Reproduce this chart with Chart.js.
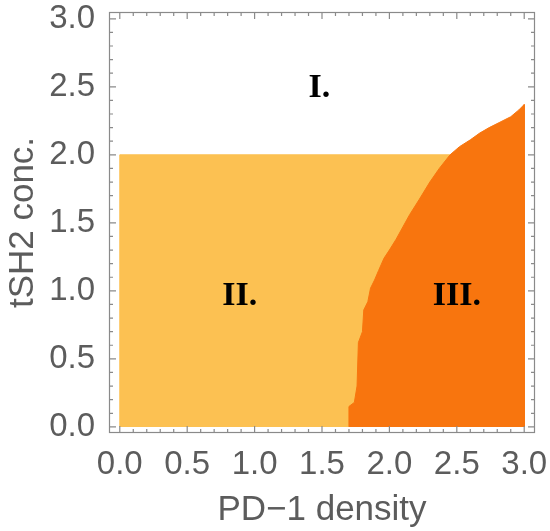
<!DOCTYPE html>
<html>
<head>
<meta charset="utf-8">
<script src="https://cdn.jsdelivr.net/npm/chart.js@4.4.1/dist/chart.umd.min.js"></script>
<style>
  html, body { margin: 0; padding: 0; background: #fff; }
  #wrap { width: 550px; height: 531px; }
</style>
</head>
<body>
<div id="wrap"><canvas id="phase"></canvas></div>
<script>
// axis ticks
const xTicks = [0, 0.5, 1, 1.5, 2, 2.5, 3];
const yTicks = [0, 0.5, 1, 1.5, 2, 2.5, 3];

// region II (light) : rectangle below tSH2 = 2
const regionTwoX = [0, 0, 3, 3];
const regionTwoY = [0, 2, 2, 0];

// region III (dark) : boundary, bottom to top, then closed on the right
const regionThreeX = [1.70, 1.70, 1.74, 1.76, 1.77, 1.80, 1.81, 1.84, 1.86, 1.89, 1.92, 1.96, 2.00, 2.05,
  2.10, 2.15, 2.22, 2.30, 2.37, 2.45, 2.52, 2.60, 2.67, 2.74, 2.82, 2.90, 2.96, 3.00, 3.00];
const regionThreeY = [0.00, 0.15, 0.18, 0.30, 0.62, 0.70, 0.86, 0.92, 1.02, 1.08, 1.15, 1.24, 1.30, 1.38,
  1.47, 1.56, 1.67, 1.80, 1.90, 2.00, 2.06, 2.11, 2.16, 2.20, 2.24, 2.28, 2.33, 2.37, 0.00];

// region labels
const regionNames = ['I.', 'II.', 'III.'];
const regionX = [1.48, 0.89, 2.50];
const regionY = [2.49, 0.96, 0.96];

const lightOrange = '#fcc152';
const darkOrange = '#f8750e';
const textGray = '#5c5c5c';
const frameGray = '#8a8a8a';

function toPoints(xs, ys) {
  return xs.map((x, i) => ({ x: x, y: ys[i] }));
}

// frame with inward ticks on all four sides, plus region names
const framePlugin = {
  id: 'frame',
  afterDatasetsDraw(chart) {
    const ctx = chart.ctx;
    const a = chart.chartArea;
    const xs = chart.scales.x, ys = chart.scales.y;
    ctx.save();
    ctx.strokeStyle = frameGray;
    ctx.lineWidth = 1.2;
    ctx.strokeRect(a.left + 0.5, a.top + 0.5, a.right - a.left - 1, a.bottom - a.top - 1);
    ctx.beginPath();
    for (let i = 0; i <= 30; i++) {
      const len = i % 5 === 0 ? 7 : 4;
      const px = xs.getPixelForValue(i / 10);
      ctx.moveTo(px, a.bottom); ctx.lineTo(px, a.bottom - len);
      ctx.moveTo(px, a.top); ctx.lineTo(px, a.top + len);
      const py = ys.getPixelForValue(i / 10);
      ctx.moveTo(a.left, py); ctx.lineTo(a.left + len, py);
      ctx.moveTo(a.right, py); ctx.lineTo(a.right - len, py);
    }
    ctx.stroke();

    ctx.fillStyle = '#000';
    ctx.font = 'bold 34px "Liberation Serif", "Times New Roman", serif';
    ctx.textAlign = 'center';
    ctx.textBaseline = 'middle';
    regionNames.forEach((name, i) => {
      ctx.fillText(name, xs.getPixelForValue(regionX[i]), ys.getPixelForValue(regionY[i]));
    });
    ctx.restore();
  }
};

new Chart(document.getElementById('phase'), {
  type: 'scatter',
  data: {
    datasets: [
      {
        label: 'III',
        data: toPoints(regionThreeX, regionThreeY),
        showLine: true,
        fill: 'shape',
        backgroundColor: darkOrange,
        borderColor: darkOrange,
        borderWidth: 1,
        pointRadius: 0,
        tension: 0,
        order: 0
      },
      {
        label: 'II',
        data: toPoints(regionTwoX, regionTwoY),
        showLine: true,
        fill: 'shape',
        backgroundColor: lightOrange,
        borderColor: lightOrange,
        borderWidth: 1,
        pointRadius: 0,
        tension: 0,
        order: 1
      }
    ]
  },
  options: {
    responsive: true,
    maintainAspectRatio: false,
    animation: false,
    layout: { padding: { top: 12, right: 15, left: 0, bottom: 0 } },
    plugins: {
      legend: { display: false },
      tooltip: { enabled: false }
    },
    scales: {
      x: {
        type: 'linear',
        min: -0.08,
        max: 3.08,
        grid: { display: false },
        border: { display: false },
        afterBuildTicks: s => { s.ticks = xTicks.map(v => ({ value: v })); },
        afterFit: s => { s.height = 98; s.paddingLeft = 0; s.paddingRight = 0; },
        ticks: {
          padding: 4,
          color: textGray,
          font: { family: '"Liberation Sans", Arial, sans-serif', size: 33 },
          maxRotation: 0,
          callback: v => v.toFixed(1)
        },
        title: {
          display: true,
          text: 'PD\u22121 density',
          color: textGray,
          font: { family: '"Liberation Sans", Arial, sans-serif', size: 35 },
          padding: { top: 0, bottom: 0 }
        }
      },
      y: {
        type: 'linear',
        min: -0.045,
        max: 3.05,
        grid: { display: false },
        border: { display: false },
        afterBuildTicks: s => { s.ticks = yTicks.map(v => ({ value: v })); },
        afterFit: s => { s.width = 109; s.paddingTop = 0; s.paddingBottom = 0; },
        ticks: {
          padding: 6,
          color: textGray,
          font: { family: '"Liberation Sans", Arial, sans-serif', size: 33 },
          callback: v => v.toFixed(1)
        },
        title: {
          display: true,
          text: 'tSH2 conc.',
          color: textGray,
          font: { family: '"Liberation Sans", Arial, sans-serif', size: 35 },
          padding: { top: 2, bottom: 0 }
        }
      }
    }
  },
  plugins: [framePlugin]
});
</script>
</body>
</html>
